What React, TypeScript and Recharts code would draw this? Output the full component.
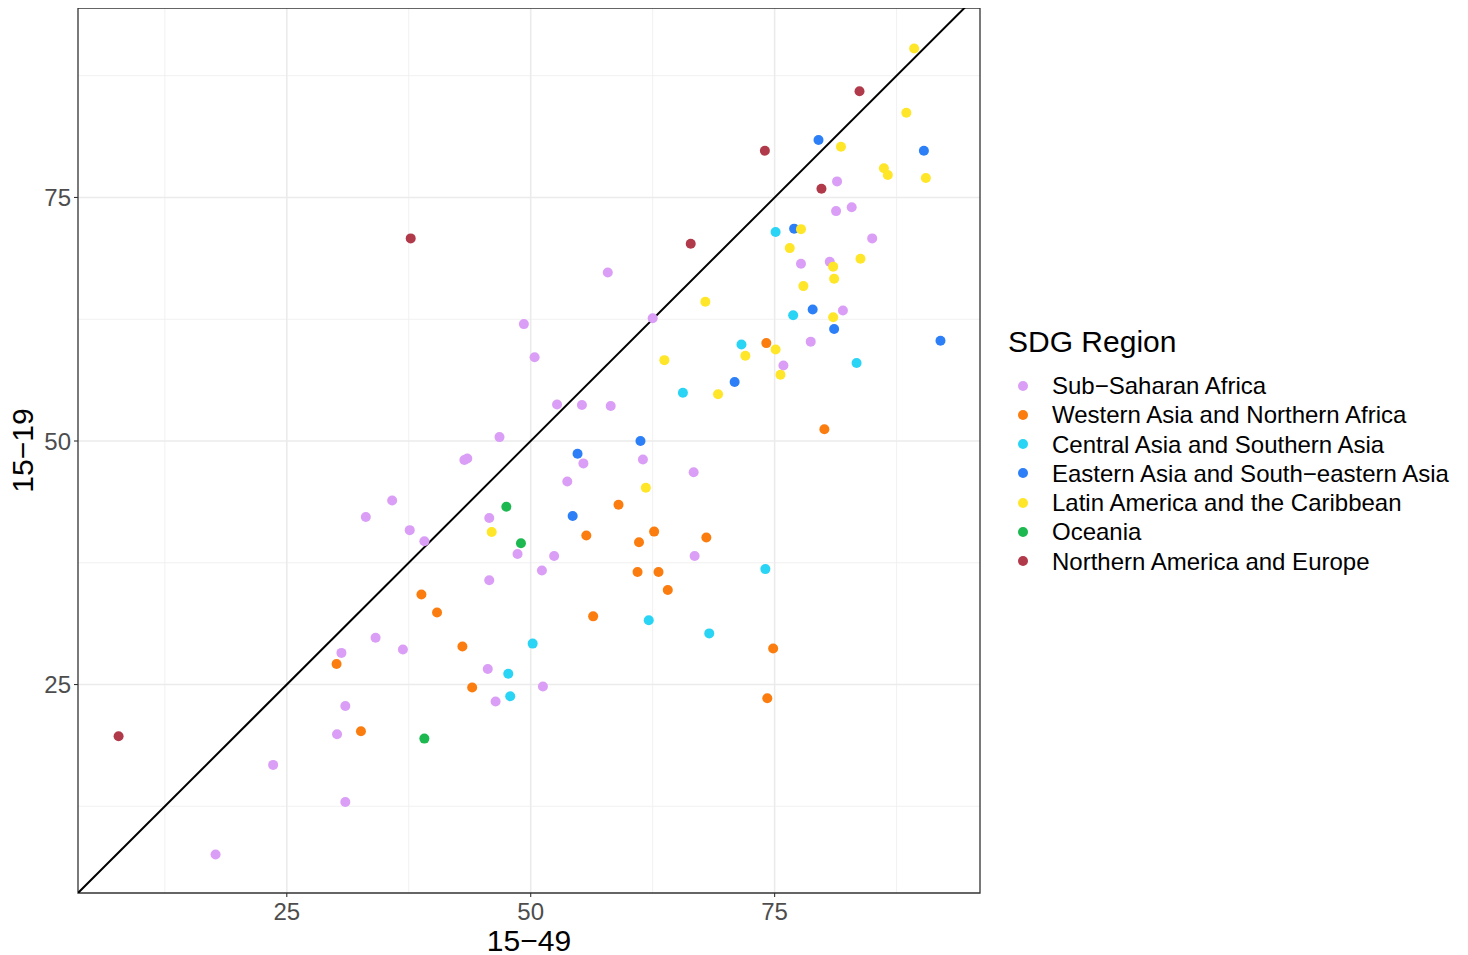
import React from 'react';
import {
  ScatterChart,
  Scatter,
  XAxis,
  YAxis,
  CartesianGrid,
  ReferenceLine,
  ReferenceArea,
  Label,
} from 'recharts';

const FONT = '"Liberation Sans", Arial, Helvetica, sans-serif';

// Categories (SDG regions) and their colours
const regionNames = [
  'Sub−Saharan Africa',
  'Western Asia and Northern Africa',
  'Central Asia and Southern Asia',
  'Eastern Asia and South−eastern Asia',
  'Latin America and the Caribbean',
  'Oceania',
  'Northern America and Europe',
];
const regionColors = ['#DA9EF6', '#FB7D10', '#2AD4F5', '#2C7FF6', '#FFE628', '#1DB84F', '#B03A4A'];

// Series values: [15–49, 15–19]
const subSaharanAfrica: [number, number][] = [
  [57.9, 67.3], [81.4, 76.65], [82.9, 74.0], [81.3, 73.6], [85.0, 70.8], [77.7, 68.2],
  [80.65, 68.4], [82.0, 63.4], [78.7, 60.2], [75.9, 57.75], [66.7, 46.8], [66.8, 38.2],
  [49.3, 62.0], [62.5, 62.6], [50.4, 58.6], [52.7, 53.75], [55.25, 53.7], [58.2, 53.6],
  [46.8, 50.4], [43.2, 48.05], [43.5, 48.2], [55.4, 47.7], [61.5, 48.1], [53.75, 45.85],
  [35.8, 43.9], [45.75, 42.1], [37.6, 40.85], [39.1, 39.7], [48.65, 38.4], [52.4, 38.2],
  [51.15, 36.7], [45.75, 35.7], [34.1, 29.8], [36.9, 28.6], [45.6, 26.6], [51.25, 24.8],
  [46.4, 23.25], [30.6, 28.25], [31.0, 22.8], [30.15, 19.9], [23.6, 16.75], [31.0, 12.95],
  [17.7, 7.55], [33.1, 42.2],
];
const westernAsiaNorthernAfrica: [number, number][] = [
  [74.15, 60.05], [80.1, 51.2], [68.0, 40.1], [59.0, 43.45], [62.65, 40.7], [55.7, 40.3],
  [61.1, 39.6], [60.95, 36.55], [63.1, 36.55], [64.05, 34.7], [38.8, 34.25], [40.4, 32.4],
  [56.4, 32.0], [43.0, 28.9], [44.0, 24.7], [74.85, 28.7], [74.25, 23.6], [30.1, 27.1],
  [32.6, 20.2],
];
const centralSouthernAsia: [number, number][] = [
  [75.1, 71.45], [76.9, 62.9], [71.6, 59.9], [83.4, 58.0], [65.6, 54.95], [74.05, 36.85],
  [62.1, 31.6], [68.3, 30.25], [50.2, 29.2], [47.7, 26.1], [47.9, 23.8],
];
const easternSouthEasternAsia: [number, number][] = [
  [79.5, 80.9], [90.3, 79.8], [77.0, 71.8], [78.9, 63.5], [81.1, 61.5], [92.0, 60.3],
  [70.9, 56.05], [61.25, 50.0], [54.8, 48.7], [54.3, 42.3],
];
const latinAmericaCaribbean: [number, number][] = [
  [89.3, 90.3], [88.5, 83.7], [81.8, 80.2], [86.2, 78.0], [86.6, 77.3], [90.5, 77.0],
  [77.7, 71.75], [76.55, 69.8], [81.0, 67.9], [83.8, 68.7], [81.1, 66.65], [77.95, 65.9],
  [67.9, 64.3], [81.0, 62.7], [75.1, 59.4], [72.0, 58.75], [75.6, 56.8], [69.2, 54.8],
  [63.7, 58.3], [61.8, 45.2], [46.0, 40.65],
];
const oceania: [number, number][] = [
  [47.5, 43.25], [49.0, 39.5], [39.1, 19.45],
];
const northernAmericaEurope: [number, number][] = [
  [37.7, 70.8], [83.7, 85.9], [74.0, 79.8], [79.8, 75.9], [66.4, 70.25], [7.76, 19.7],
];

const seriesValues = [
  subSaharanAfrica,
  westernAsiaNorthernAfrica,
  centralSouthernAsia,
  easternSouthEasternAsia,
  latinAmericaCaribbean,
  oceania,
  northernAmericaEurope,
];

// Axes
const xDomain: [number, number] = [3.6, 96.05];
const yDomain: [number, number] = [3.6, 94.45];
const majorTicks = [25, 50, 75];
const minorTicks = [12.5, 37.5, 62.5, 87.5];
const identityLine = [0, 100];

const makeDot = (color: string) => (props: any) => (
  <circle cx={props.cx} cy={props.cy} r={5} fill={color} />
);

const XTitle = (props: any) => {
  const vb = props.viewBox || { x: 78, y: 893, width: 902, height: 62 };
  const cx = vb.x + vb.width / 2;
  const cy = vb.y + 47;
  return (
    <text x={cx} y={cy} textAnchor="middle" dominantBaseline="central" fontSize={30} fontFamily={FONT} fill="#000">
      15−49
    </text>
  );
};

const YTitle = (props: any) => {
  const vb = props.viewBox || { x: 0, y: 8, width: 78, height: 885 };
  const cx = vb.x + 22.5;
  const cy = vb.y + vb.height / 2;
  return (
    <text
      x={cx}
      y={cy}
      transform={`rotate(-90 ${cx} ${cy})`}
      textAnchor="middle"
      dominantBaseline="central"
      fontSize={30}
      fontFamily={FONT}
      fill="#000"
    >
      15−19
    </text>
  );
};

const tickStyle = { fill: '#4D4D4D', fontSize: 24, fontFamily: FONT };

export default function App() {
  return (
    <div style={{ position: 'relative', width: 1468, height: 955, margin: '-8px 0 0 -8px', fontFamily: FONT }}>
      <ScatterChart width={1468} height={955} margin={{ top: 8, right: 488, bottom: 0, left: 0 }}>
        <CartesianGrid
          stroke="#EFEFEF"
          strokeWidth={0.9}
          horizontalValues={minorTicks}
          verticalValues={minorTicks}
          syncWithTicks={false}
        />
        <CartesianGrid
          stroke="#EBEBEB"
          strokeWidth={1.6}
          horizontalValues={majorTicks}
          verticalValues={majorTicks}
          syncWithTicks={false}
        />
        <XAxis
          type="number"
          dataKey="x"
          domain={xDomain}
          allowDataOverflow
          ticks={majorTicks}
          interval={0}
          tickSize={4}
          tickMargin={6}
          height={62}
          axisLine={false}
          tickLine={{ stroke: '#333333', strokeWidth: 1.1 }}
          tick={tickStyle}
        >
          <Label content={XTitle} />
        </XAxis>
        <YAxis
          type="number"
          dataKey="y"
          domain={yDomain}
          allowDataOverflow
          ticks={majorTicks}
          interval={0}
          tickSize={4}
          tickMargin={3}
          width={78}
          axisLine={false}
          tickLine={{ stroke: '#333333', strokeWidth: 1.1 }}
          tick={tickStyle}
        >
          <Label content={YTitle} />
        </YAxis>
        <ReferenceArea
          x1={xDomain[0]}
          x2={xDomain[1]}
          y1={yDomain[0]}
          y2={yDomain[1]}
          fill="none"
          stroke="#333333"
          strokeWidth={1.3}
          ifOverflow="visible"
        />
        {seriesValues.map((pts, i) => (
          <Scatter
            key={regionNames[i]}
            name={regionNames[i]}
            data={pts.map(([x, y]) => ({ x, y }))}
            fill={regionColors[i]}
            shape={makeDot(regionColors[i])}
            isAnimationActive={false}
          />
        ))}
        <ReferenceLine
          segment={[
            { x: identityLine[0], y: identityLine[0] },
            { x: identityLine[1], y: identityLine[1] },
          ]}
          stroke="#000000"
          strokeWidth={2}
          ifOverflow="hidden"
        />
      </ScatterChart>
      <div style={{ position: 'absolute', left: 1008, top: 327, color: '#000' }}>
        <div style={{ fontSize: 30, lineHeight: '30px', height: 30, whiteSpace: 'nowrap' }}>SDG Region</div>
        <div style={{ position: 'absolute', top: 44, left: 0 }}>
          {regionNames.map((name, i) => (
            <div
              key={name}
              style={{ display: 'flex', alignItems: 'center', height: 29.28, whiteSpace: 'nowrap' }}
            >
              <div style={{ width: 30, position: 'relative', height: 29.28 }}>
                <div
                  style={{
                    position: 'absolute',
                    left: 10.3,
                    top: 9.64,
                    width: 10,
                    height: 10,
                    borderRadius: '50%',
                    background: regionColors[i],
                  }}
                />
              </div>
              <span style={{ fontSize: 24, lineHeight: '29.28px', marginLeft: 14 }}>{name}</span>
            </div>
          ))}
        </div>
      </div>
    </div>
  );
}
